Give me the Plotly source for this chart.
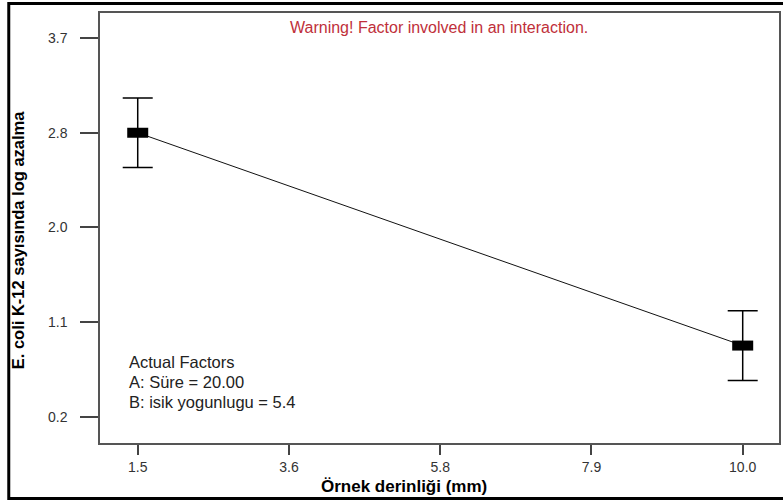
import plotly.graph_objects as go

# One-factor effect plot: sample depth vs log reduction of E. coli K-12
depth_mm = [1.5, 10.0]
log_reduction = [2.83, 0.875]
ci_half_width = [0.32, 0.32]

x_tick_vals = [1.5, 3.625, 5.75, 7.875, 10.0]
x_tick_text = ["1.5", "3.6", "5.8", "7.9", "10.0"]
y_tick_vals = [0.22, 1.09, 1.96, 2.83, 3.70]
y_tick_text = ["0.2", "1.1", "2.0", "2.8", "3.7"]

factor_lines = ["Actual Factors", "A: Süre = 20.00", "B: isik yogunlugu = 5.4"]

FONT = "Liberation Sans"
W, H = 783, 503
L, R, T, B = 100, 2, 13, 60
pw, ph = W - L - R, H - T - B


def px_x(px):
    return (px - L) / pw


def px_y(py):
    return 1 - (py - T) / ph


fig = go.Figure()
fig.add_trace(go.Scatter(
    x=depth_mm, y=log_reduction,
    mode="lines+markers",
    line=dict(color="#111111", width=1),
    marker=dict(symbol="line-ew", size=15, color="black",
                line=dict(color="black", width=10)),
    error_y=dict(type="data", array=ci_half_width, visible=True,
                 color="black", thickness=1.5, width=15),
    showlegend=False,
    hoverinfo="x+y",
))

axis_common = dict(
    showgrid=False, zeroline=False,
    showline=True, linecolor="#555555", linewidth=1.5, mirror=True,
    ticks="outside", tickcolor="#444444", tickwidth=1.5,
    tickfont=dict(family=FONT, size=14, color="#333333"),
)

fig.update_xaxes(range=[0.97, 10.51], tickvals=x_tick_vals, ticktext=x_tick_text,
                 ticklen=10, ticklabelstandoff=0, **axis_common)
fig.update_yaxes(range=[-0.02, 3.93], tickvals=y_tick_vals, ticktext=y_tick_text,
                 ticklen=18, ticklabelstandoff=10, **axis_common)

annotations = [
    dict(text="Warning! Factor involved in an interaction.",
         x=px_x(440), y=px_y(28), xanchor="center", yanchor="middle",
         font=dict(family=FONT, size=16, color="#c0303a")),
    dict(text="<b>E. coli K-12 sayısında log azalma</b>", textangle=-90,
         x=px_x(18), y=px_y(240), xanchor="center", yanchor="middle",
         font=dict(family=FONT, size=16.5, color="black")),
    dict(text="<b>Örnek derinliği (mm)</b>",
         x=px_x(405), y=px_y(486.5), xanchor="center", yanchor="middle",
         font=dict(family=FONT, size=17, color="black")),
]
for i, line in enumerate(factor_lines):
    annotations.append(dict(
        text=line, x=px_x(127), y=px_y(362 + 20 * i),
        xanchor="left", yanchor="middle",
        font=dict(family=FONT, size=16.5, color="#222222")))
for a in annotations:
    a.update(xref="paper", yref="paper", showarrow=False)

# outer frame around the whole figure
fig.add_shape(type="rect", xref="paper", yref="paper",
              x0=px_x(8.5), x1=px_x(800), y0=px_y(498.5), y1=px_y(3.5),
              line=dict(color="black", width=3), layer="above")

fig.update_layout(
    width=W, height=H,
    margin=dict(l=L, r=R, t=T, b=B),
    paper_bgcolor="white", plot_bgcolor="white",
    annotations=annotations,
)

fig.write_html("out.html")
